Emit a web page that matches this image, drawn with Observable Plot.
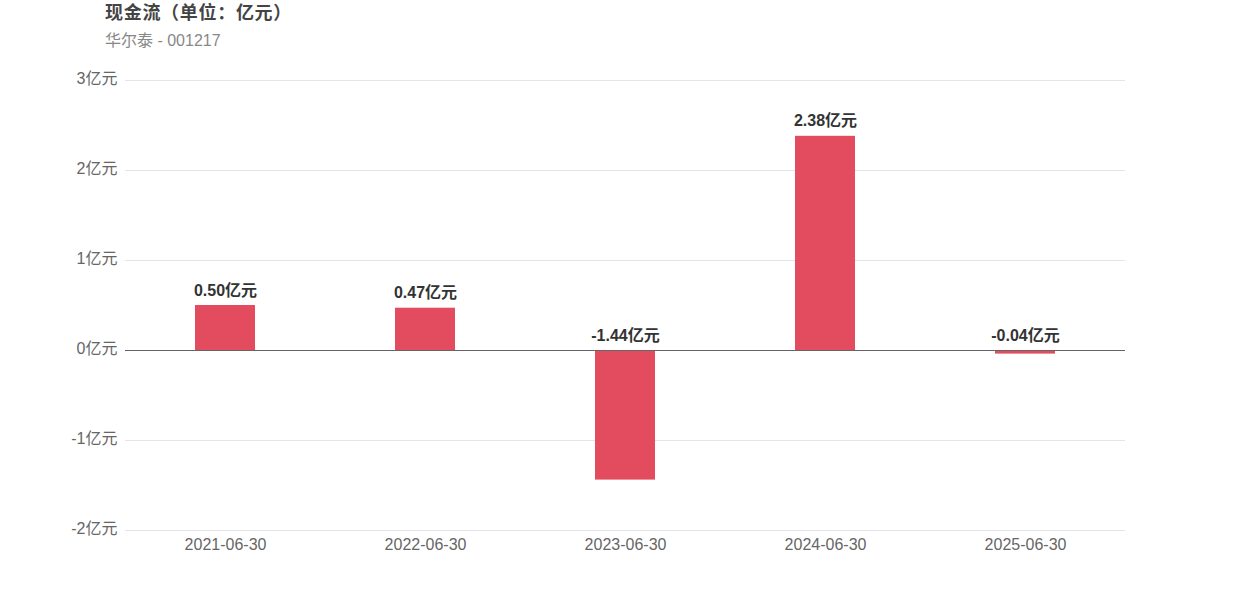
<!DOCTYPE html>
<html>
<head>
<meta charset="utf-8">
<script src="https://cdn.jsdelivr.net/npm/d3@7"></script>
<script src="https://cdn.jsdelivr.net/npm/@observablehq/plot@0.6"></script>
<style>
  html, body { margin: 0; padding: 0; background: #fff; }
  body { width: 1250px; height: 600px; overflow: hidden; font-family: "Liberation Sans", "Noto Sans CJK SC", sans-serif; }
  #header { height: 55px; position: relative; }
  #title { position: absolute; left: 105px; top: -2px; font-size: 18px; font-weight: bold; color: #444; letter-spacing: 0.7px; }
  #subtitle { position: absolute; left: 105px; top: 27px; font-size: 16px; color: #888; }
</style>
</head>
<body>
<div id="header">
  <div id="title">现金流（单位：亿元）</div>
  <div id="subtitle">华尔泰 - 001217</div>
</div>
<div id="chart"></div>
<script>
const dates = ["2021-06-30", "2022-06-30", "2023-06-30", "2024-06-30", "2025-06-30"];
const values = [0.50, 0.47, -1.44, 2.38, -0.04];
const yTicks = [-2, -1, 0, 1, 2, 3];
const unit = "亿元";

const data = dates.map((d, i) => ({date: d, value: values[i]}));

const chart = Plot.plot({
  width: 1250,
  height: 545,
  marginTop: 25,
  marginBottom: 70,
  marginLeft: 125,
  marginRight: 125,
  style: {fontFamily: "'Liberation Sans', 'Noto Sans CJK SC', sans-serif", fontSize: "16px", color: "#666", background: "#fff"},
  x: {domain: dates, paddingInner: 0.7, paddingOuter: 0.35, label: null},
  y: {domain: [-2, 3], label: null},
  marks: [
    Plot.gridY(yTicks, {stroke: "#e3e3ec", strokeOpacity: 1}),
    Plot.barY(data, {x: "date", y: "value", fill: "#e34b5f"}),
    Plot.ruleY([0], {stroke: "#666"}),
    Plot.text(data, {x: "date", y: d => Math.max(0, d.value), text: d => d.value.toFixed(2) + unit, dy: -15, fontWeight: "bold", fontSize: 16, fill: "#333"}),
    Plot.axisX({tickSize: 0, tickPadding: 8, fontSize: 16, fill: "#666", label: null}),
    Plot.axisY(yTicks, {tickSize: 0, tickPadding: 8, dy: -2, fontSize: 16, fill: "#666", tickFormat: d => d + unit, label: null})
  ]
});
document.getElementById("chart").appendChild(chart);
</script>
</body>
</html>
